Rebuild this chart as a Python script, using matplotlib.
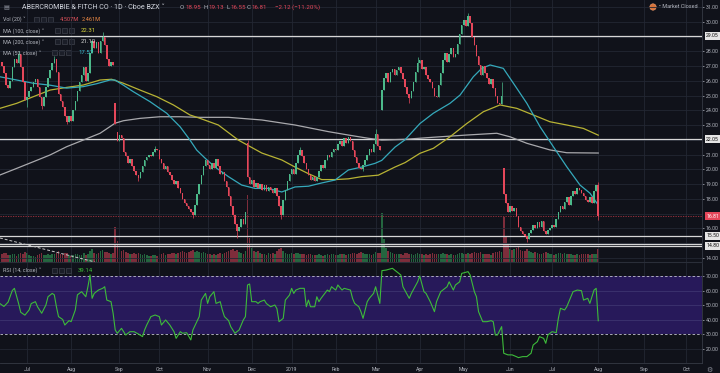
import numpy as np
import matplotlib.pyplot as plt
from matplotlib.patches import Rectangle, Circle
import matplotlib.transforms as mtransforms

W, H = 720, 373
BG = "#10121a"
GRID = "#232733"
TXT = "#b2b5be"
UP = "#4cb98a"
DOWN = "#e5475a"
VOL_UP = "#24663f"
VOL_DOWN = "#7e2d3b"
FONT = ["Roboto", "DejaVu Sans"]

# ---- data (bar index 0 = 2 Jul 2018, daily bars) ----
first_bar = -12
closes = [
    27.0, 26.5, 25.7, 25.5, 26.0, 26.9, 27.5, 27.2, 27.8, 26.9,
    25.9, 24.7, 24.9, 25.3, 25.6, 25.9, 26.1, 25.6, 24.9, 24.3,
    24.9, 25.6, 26.2, 26.7, 27.2, 27.5, 26.6, 25.1, 24.6, 24.2,
    23.6, 23.2, 23.6, 23.3, 24.0, 24.6, 25.3, 25.9, 26.4, 26.9,
    26.0, 26.5, 27.9, 28.7, 28.2, 28.6, 27.9, 28.7, 29.0, 28.4,
    27.5, 27.0, 27.3, 27.1, 23.1, 21.9, 22.3, 22.1, 21.2, 20.9,
    20.4, 20.7, 20.2, 19.9, 19.6, 19.4, 19.8, 20.2, 20.6, 20.8,
    21.0, 20.9, 21.2, 21.4, 21.3, 20.7, 20.4, 20.0, 20.2, 19.8,
    19.6, 19.3, 19.0, 19.2, 18.7, 18.4, 18.0, 17.7, 17.5, 17.3,
    17.1, 16.9, 17.6, 18.3, 19.0, 19.6, 20.2, 20.6, 20.3, 20.0,
    20.4, 20.1, 20.7, 20.2, 19.7, 19.8, 19.2, 18.8, 18.2, 17.5,
    16.9, 16.3, 15.8, 16.1, 16.6, 16.3, 17.1, 19.5, 19.0, 19.3,
    18.8, 19.1, 18.7, 19.0, 18.6, 18.9, 18.5, 18.8, 18.6, 18.4,
    18.7, 18.2, 17.5, 16.9, 17.9, 18.6, 19.2, 19.7, 20.0, 19.7,
    20.4, 21.0, 21.3, 20.9, 20.4, 20.0, 19.6, 19.3, 19.5, 19.2,
    19.5, 19.9, 20.3, 20.1, 20.6, 21.0, 20.8, 21.2, 21.4, 21.3,
    21.7, 21.9, 21.6, 22.1, 21.8, 22.2, 21.9, 21.3, 20.8, 20.4,
    20.1, 20.0, 20.3, 20.6, 21.0, 21.4, 21.2, 21.7, 22.4, 21.6,
    21.3, 25.4, 26.2, 26.5, 25.9, 26.6, 26.8, 26.4, 26.7, 26.9,
    26.5, 26.1, 25.6, 25.1, 24.8, 25.3, 25.9, 26.6, 27.2, 27.4,
    26.8, 26.9, 26.4, 26.1, 25.9, 25.5, 25.0, 24.9, 25.7, 26.5,
    27.4, 27.9, 27.3, 27.8, 28.2, 27.6, 27.8, 28.5, 29.2, 29.8,
    30.1, 29.7, 30.4, 29.9, 29.0, 28.4, 27.7, 27.1, 26.4, 27.0,
    26.5, 26.2, 25.8, 26.1, 25.5, 25.0, 24.5, 24.4, 25.0, 18.3,
    17.7, 17.1, 17.5, 17.2, 17.4, 16.8, 16.1, 15.8, 15.6, 15.5,
    15.3, 15.7, 15.9, 16.2, 16.0, 16.4, 16.1, 16.5, 15.8, 15.6,
    15.9, 16.0, 16.2, 16.1, 16.6, 17.1, 17.5, 17.3, 17.8, 18.1,
    17.6, 18.2, 18.5, 18.3, 18.7, 18.6, 18.4, 18.2, 17.9, 17.8,
    18.1, 17.7, 18.5, 18.93, 16.81,
]
# opens that do not sit at the previous close (gaps)
gap_opens = {-12: 27.3, 42: 24.5, 43: 22.5, 105: 21.8, 169: 24.0, 227: 20.1, 272: 18.95}
wick_high = {-4: 28.0, 13: 27.7, 36: 29.3, 61: 21.6, 105: 21.95, 130: 21.5, 166: 22.7,
             186: 27.6, 210: 30.6, 226: 25.9, 272: 19.13}
wick_low = {0: 24.2, 7: 24.1, 19: 23.05, 53: 19.2, 79: 16.7, 100: 15.35, 121: 16.65,
            160: 19.9, 182: 24.5, 238: 15.1, 272: 16.55}

volumes = [
    2.8, 3.1, 3.4, 2.6, 2.4, 3.0, 2.9, 2.2, 2.7, 3.3,
    3.0, 3.6, 3.2, 2.5, 2.1, 2.3, 1.9, 2.4, 2.9, 3.1,
    2.6, 2.4, 2.8, 2.5, 3.0, 2.7, 3.2, 3.8, 3.0, 2.9,
    3.4, 3.1, 2.6, 2.3, 2.5, 2.7, 2.9, 2.6, 2.4, 3.1,
    2.5, 2.8, 4.1, 4.6, 3.3, 3.0, 3.4, 3.8, 4.2, 3.5,
    3.6, 3.2, 2.9, 3.3, 12.5, 7.4, 4.8, 3.9, 4.4, 3.6,
    3.1, 2.9, 3.0, 3.2, 2.8, 3.4, 2.9, 2.6, 2.7, 2.4,
    2.3, 2.2, 2.5, 2.6, 2.3, 2.9, 2.7, 3.1, 2.6, 2.8,
    2.9, 3.2, 3.4, 2.8, 3.3, 3.6, 3.9, 3.5, 3.2, 3.7,
    3.9, 4.3, 3.6, 3.9, 3.5, 3.3, 3.7, 3.1, 2.8, 2.9,
    2.6, 2.7, 2.5, 2.9, 3.1, 2.8, 3.2, 3.5, 3.9, 4.2,
    4.6, 4.1, 4.4, 3.6, 3.2, 2.9, 3.8, 24.0, 8.6, 5.2,
    4.1, 3.6, 3.9, 3.2, 3.0, 2.8, 2.6, 3.1, 2.7, 3.3,
    2.9, 3.8, 4.5, 5.1, 3.9, 3.3, 3.0, 2.8, 3.2, 2.9,
    3.1, 3.4, 3.0, 2.8, 2.9, 2.6, 2.8, 2.7, 2.5, 2.4,
    2.6, 2.8, 2.5, 2.3, 2.6, 2.9, 2.4, 2.7, 2.8, 2.5,
    2.6, 2.9, 2.7, 3.0, 2.6, 2.8, 2.9, 3.2, 3.4, 3.0,
    3.3, 3.6, 3.1, 2.8, 2.7, 2.9, 2.6, 3.0, 3.5, 3.2,
    3.4, 17.5, 8.2, 5.1, 4.0, 3.6, 3.2, 2.9, 3.0, 2.7,
    2.8, 2.6, 3.1, 3.3, 2.9, 2.7, 2.6, 2.9, 3.2, 3.0,
    2.7, 2.5, 2.8, 2.6, 2.9, 3.1, 3.0, 2.8, 2.7, 3.0,
    3.2, 2.9, 2.7, 2.6, 2.8, 2.5, 2.4, 2.9, 3.3, 3.1,
    2.9, 2.7, 3.2, 3.0, 3.4, 3.6, 3.3, 3.1, 3.5, 2.9,
    2.7, 2.8, 3.0, 2.6, 3.2, 3.5, 3.7, 4.0, 3.6, 16.0,
    9.2, 6.0, 4.8, 4.2, 4.6, 5.0, 5.3, 4.4, 3.9, 4.1,
    4.5, 3.8, 3.5, 3.2, 3.6, 3.3, 3.0, 2.9, 3.4, 3.6,
    3.1, 2.8, 2.7, 2.5, 3.0, 3.3, 3.1, 2.8, 3.2, 3.0,
    2.7, 2.9, 2.6, 2.5, 2.8, 2.6, 2.7, 2.9, 3.0, 2.8,
    2.6, 2.7, 3.0, 2.9, 4.5,
]

ma50_idx = [-12.9, -4.9, 3, 11, 18.9, 26.8, 33.2, 39.5, 41.9, 45.9, 50.6, 58.6, 66.5, 72.9,
            77.6, 80.8, 84.8, 89.5, 95.9, 102.2, 108.6, 114.9, 121.3, 127.6, 134, 140.3,
            146.7, 153, 159.4, 165.7, 168.9, 175.2, 180, 187.1, 193.5, 201.4, 206.2, 212.5,
            216.5, 220.5, 226.8, 231.6, 238, 244.3, 250.6, 257, 263.3, 268.1, 272]
ma50_val = [26.27, 26.05, 25.83, 25.7, 25.5, 25.6, 25.8, 26.05, 26.05, 25.7, 25.26, 24.58,
            23.8, 22.88, 21.98, 21.3, 20.75, 20.15, 19.5, 18.93, 18.7, 18.7, 18.46, 18.8,
            18.85, 19.07, 19.27, 19.95, 20.15, 20.4, 20.6, 21.5, 22.0, 23.1, 23.8, 24.47,
            25.03, 26.27, 26.84, 27.07, 26.84, 25.83, 24.47, 22.88, 21.53, 20.17, 18.93,
            18.37, 17.57]
ma100_idx = [-12.9, -4.9, 3, 11, 18.9, 26.8, 34.8, 40.3, 45.9, 53.8, 61.8, 69.7, 77.6, 82.4,
             91.1, 100.6, 111.8, 121.3, 127.6, 134, 140.3, 146.7, 153, 159.4, 167.3, 175.2,
             180, 187.1, 193.5, 201.4, 209.4, 217.3, 225.2, 233.2, 241.1, 249, 257, 264.9, 272]
ma100_val = [24.13, 24.47, 24.92, 25.37, 25.55, 25.71, 26.05, 26.1, 25.83, 25.37, 24.92,
             24.36, 23.68, 23.45, 23.0, 21.98, 21.1, 20.63, 20.15, 19.7, 19.3, 19.3, 19.35,
             19.5, 19.6, 20.15, 20.45, 21.08, 21.42, 22.2, 23.1, 23.9, 24.36, 24.13, 23.68,
             23.22, 23.0, 22.77, 22.31]
ma200_idx = [-12.9, -4.9, 3, 11, 18.9, 26.8, 34.8, 41.9, 45.9, 53.8, 63.3, 72.9, 82.4, 95.9,
             111.8, 127.6, 143.5, 153, 162.5, 168.9, 180, 193.5, 209.4, 223.7, 230, 238, 249,
             257, 272]
ma200_val = [19.61, 20.06, 20.51, 20.97, 21.53, 21.98, 22.44, 23.12, 23.29, 23.45, 23.56,
             23.56, 23.52, 23.52, 23.34, 23.0, 22.55, 22.32, 22.1, 21.98, 22.03, 22.17, 22.32,
             22.44, 22.2, 21.76, 21.31, 21.12, 21.1]

rsi_idx = [-12.9, -11, -9, -7, -6, -4, -3, -1, 1, 2, 4, 5, 7, 9, 10, 12, 13, 14, 15, 17, 18,
           20, 21, 23, 24, 26, 28, 29, 30, 31, 32, 34, 36, 37, 38, 40, 41, 42, 43, 45, 47, 49,
           51, 53, 55, 56, 57, 59, 61, 63, 64, 66, 68, 70, 71, 73, 74, 76, 78, 79, 82, 83, 85,
           86, 87, 89, 90, 92, 93, 94, 96, 97, 99, 101, 103, 104, 105, 106, 107, 109, 110,
           111, 113, 114, 116, 118, 119, 120, 122, 123, 125, 126, 127, 128, 130, 132, 133,
           134, 135, 137, 138, 139, 140, 143, 144, 145, 147, 148, 150, 151, 154, 155, 156,
           158, 159, 160, 162, 163, 165, 166, 168, 169, 171, 174, 176, 178, 179, 182, 183,
           186, 187, 189, 190, 192, 194, 195, 197, 200, 201, 203, 204, 206, 207, 210, 211,
           213, 214, 215, 217, 219, 221, 222, 223, 224, 226, 227, 229, 231, 233, 234, 236,
           238, 240, 241, 243, 244, 246, 247, 248, 250, 252, 253, 254, 256, 257, 259, 260,
           262, 264, 265, 267, 268, 270, 271, 272]
rsi_val = [51, 49, 52, 60, 61.5, 51, 45, 43, 46.6, 51, 52.3, 48.8, 44.3, 50, 55.7, 58, 57,
           48.8, 42, 40, 36.2, 39.2, 38.5, 46.6, 57, 59.2, 55.7, 62.6, 70.7, 54.6, 58, 60.3,
           61.5, 62.6, 53.4, 52.3, 44.3, 32.8, 30.5, 33.9, 29.3, 31.6, 31.6, 30, 28.2, 32.8,
           36.2, 42, 43.1, 42, 36.2, 39.7, 36.2, 31.6, 27, 31.6, 30.5, 30.9, 25.9, 32.8, 42,
           53.4, 58, 51.1, 55.7, 59.2, 51.1, 52.3, 46.6, 42, 39.2, 35.1, 30.5, 32.8, 39.7, 42,
           63.8, 64.5, 52.3, 52.3, 51.1, 52.3, 53.4, 51, 48.8, 50, 47.5, 38.5, 40.8, 53.4,
           56.9, 61.5, 58, 60.3, 61.5, 61.5, 48.8, 53.4, 48.8, 48.8, 55.7, 52.3, 54.6, 60.3,
           59.2, 62.6, 60.3, 63.8, 60.3, 61.5, 60.3, 54.6, 51.1, 48.8, 45.4, 40.8, 52.3, 54.6,
           58, 62.6, 51.1, 73.7, 74.1, 75.3, 73, 70.7, 62.6, 54.6, 58, 66, 70, 59.2, 58, 52.3,
           45.4, 52.3, 59.2, 62.6, 66, 60.3, 63.8, 66, 71.8, 73, 70.7, 59.2, 55.7, 45.4, 38.5,
           38.5, 39.2, 38.5, 29.3, 29.3, 35.1, 16.7, 15.6, 15.6, 14.4, 13.7, 14.4, 14.4, 16.7,
           22.4, 24.7, 28.2, 27, 23.6, 29.3, 31.6, 30.9, 40.8, 47.7, 46.6, 48.8, 55.7, 59.2,
           60.3, 59.9, 53.4, 54.6, 51.1, 60.3, 61.5, 39.14]

month_idx = [0, 21, 44, 63, 86, 107, 126, 147, 166, 187, 208, 230, 250, 272, 294, 314]
month_lbl = ["Jul", "Aug", "Sep", "Oct", "Nov", "Dec", "2019", "Feb", "Mar", "Apr", "May",
             "Jun", "Jul", "Aug", "Sep", "Oct"]
level_lines = [29.05, 22.05, 15.50, 14.95, 14.80]
level_labels = [29.05, 22.05, 15.50, 14.80]
price_ticks = [14, 16, 18, 19, 20, 21, 23, 24, 25, 26, 27, 28, 30, 31]
last_price = 16.81
trend_start = (-12.86, 15.34)
trend_end = (32.4, 13.71)
rsi_ticks = [20, 30, 40, 50, 60, 70]

# ---- layout ----
plt.rcParams["font.family"] = FONT
fig = plt.figure(figsize=(W / 100, H / 100), dpi=100, facecolor=BG)
main_rect = [0, (H - 262) / H, 702 / W, 262 / H]
ax_vol = fig.add_axes(main_rect)
ax = fig.add_axes(main_rect, sharex=ax_vol)
ax_rsi = fig.add_axes([0, (H - 363) / H, 702 / W, 100 / H], sharex=ax_vol)

xmin, xmax = -12.86, 321.4
bars = np.arange(first_bar, first_bar + len(closes))
closes = np.array(closes)
opens = np.empty_like(closes)
for k, i in enumerate(bars):
    opens[k] = gap_opens.get(i, closes[k - 1] if k else closes[k])
up = closes >= opens
colors = np.where(up, UP, DOWN)
highs = np.maximum(opens, closes)
lows = np.minimum(opens, closes)
for i, v in wick_high.items():
    highs[i - first_bar] = v
for i, v in wick_low.items():
    lows[i - first_bar] = v

# volume (behind the candles)
ax_vol.set_facecolor(BG)
ax_vol.bar(bars, volumes, width=0.75, color=np.where(up, VOL_UP, VOL_DOWN), linewidth=0)
ax_vol.set_ylim(0, 94)
ax_vol.set_xlim(xmin, xmax)
ax_vol.axis("off")

ax.set_zorder(ax_vol.get_zorder() + 1)
ax.patch.set_alpha(0)
ax.set_ylim(13.712, 31.475)
ax.set_xlim(xmin, xmax)

for p in range(14, 32):
    ax.axhline(p, color=GRID, lw=0.6, zorder=0)
for m in month_idx:
    ax.axvline(m, color=GRID, lw=0.6, zorder=0)
    ax_rsi.axvline(m, color=GRID, lw=0.6, zorder=0)

for lv in level_lines:
    ax.axhline(lv, color="#d6d6d6", lw=0.9, zorder=2)
ax.axhline(last_price, color="#a8323f", lw=0.6, ls=(0, (1.5, 1.5)), zorder=2)
ax.plot([trend_start[0], trend_end[0]], [trend_start[1], trend_end[1]],
        color="#c8c8c8", lw=0.7, ls=(0, (3, 2)), zorder=2)

ax.plot(ma200_idx, ma200_val, color="#a9a9ad", lw=0.9, zorder=3)
ax.plot(ma100_idx, ma100_val, color="#b8b334", lw=0.9, zorder=3)
ax.plot(ma50_idx, ma50_val, color="#35a9bb", lw=0.9, zorder=3)

ax.vlines(bars, lows, highs, colors=colors, lw=0.5, zorder=4)
body = np.maximum(np.abs(closes - opens), 0.06)
ax.bar(bars, body, bottom=np.minimum(opens, closes), width=0.72, color=colors,
       linewidth=0, zorder=5)

# price scale
ax.yaxis.tick_right()
ax.set_yticks(price_ticks)
ax.set_yticklabels([f"{p:.2f}" for p in price_ticks])
ax.tick_params(axis="y", colors=TXT, labelsize=3.7, length=1.5, width=0.5, pad=1)
ax.tick_params(axis="x", bottom=False, labelbottom=False)
for s in ["top", "left"]:
    ax.spines[s].set_visible(False)
ax.spines["right"].set_color("#363a45")
ax.spines["right"].set_linewidth(0.6)
ax.spines["bottom"].set_color("#2a2e39")
ax.spines["bottom"].set_linewidth(0.8)

blend = mtransforms.blended_transform_factory(ax.transAxes, ax.transData)
for lv in level_labels:
    ax.text(1.006, lv, f"{lv:.2f}", transform=blend, fontsize=3.7, color="#111111",
            va="center", ha="left", clip_on=False, zorder=10,
            bbox=dict(boxstyle="square,pad=0.3", fc="#e6e6e6", ec="none"))
ax.text(1.006, last_price, f"{last_price:.2f}", transform=blend, fontsize=3.7,
        color="white", va="center", ha="left", clip_on=False, zorder=10,
        bbox=dict(boxstyle="square,pad=0.3", fc=DOWN, ec="none"))

# RSI pane
ax_rsi.set_facecolor(BG)
ax_rsi.set_ylim(10, 78.97)
ax_rsi.axhspan(30, 70, color="#27195a", lw=0, zorder=0)
for r in [40, 50, 60]:
    ax_rsi.axhline(r, color="#3d3470", lw=0.6, zorder=1)
ax_rsi.axhline(20, color=GRID, lw=0.6, zorder=1)
for r in [30, 70]:
    ax_rsi.axhline(r, color="#c4c4d0", lw=0.6, ls=(0, (3, 2.5)), zorder=2)
ax_rsi.plot(rsi_idx, rsi_val, color="#3dbb3a", lw=0.8, zorder=3)
ax_rsi.yaxis.tick_right()
ax_rsi.set_yticks(rsi_ticks)
ax_rsi.set_yticklabels([f"{r:.2f}" for r in rsi_ticks])
ax_rsi.tick_params(axis="y", colors=TXT, labelsize=3.7, length=1.5, width=0.5, pad=1)
ax_rsi.set_xticks(month_idx)
ax_rsi.set_xticklabels(month_lbl)
ax_rsi.tick_params(axis="x", colors=TXT, labelsize=3.7, length=0, pad=3)
for s in ["top", "left"]:
    ax_rsi.spines[s].set_visible(False)
for s in ["right", "bottom"]:
    ax_rsi.spines[s].set_color("#363a45")
    ax_rsi.spines[s].set_linewidth(0.6)
ax_rsi.set_xlim(xmin, xmax)


# ---- header texts (pixel positions) ----
def ftext(x, y, s, color=TXT, size=3.9, **kw):
    fig.text(x / W, 1 - y / H, s, color=color, fontsize=size, va="center", ha="left", **kw)


def icons(x, y):
    for k in range(3):
        fig.add_artist(Rectangle(((x + k * 7) / W, 1 - (y + 2.6) / H), 5.2 / W, 5.2 / H,
                                 transform=fig.transFigure, fc="#1b1e28", ec="#4a4d58",
                                 lw=0.4))


ftext(3, 7.3, "\u25a4", color="#8a8e99", size=4.5, family=["DejaVu Sans"])
ftext(22, 7.3, "ABERCROMBIE & FITCH CO \u00b7 1D \u00b7 Cboe BZX \u02c5", color="#d1d4dc", size=5.1)
ohlc = [(180, "O", 185, "18.95"), (203, "H", 208, "19.13"), (226.5, "L", 230.5, "16.55"),
        (247, "C", 251.5, "16.81")]
for lx, letter, vx, val in ohlc:
    ftext(lx, 7.3, letter, size=4.4)
    ftext(vx, 7.3, val, color=DOWN, size=4.4)
ftext(275, 7.3, "\u22122.12 (\u221211.20%)", color=DOWN, size=4.4)

ftext(3, 19.3, "Vol (20) \u02c5")
icons(34, 19.3)
ftext(60, 19.3, "4.507M", color="#e0525c", size=4.1)
ftext(82, 19.3, "2.461M", color="#ef8a45", size=4.1)
ftext(3, 30.7, "MA (100, close) \u02c5")
icons(55, 30.7)
ftext(81, 30.7, "22.31", color="#d8d43c", size=4.3)
ftext(3, 41.7, "MA (200, close) \u02c5")
icons(55, 41.7)
ftext(81, 41.7, "21.10", color="#d9d9d9", size=4.3)
ftext(3, 52.7, "MA (50, close) \u02c5")
icons(52, 52.7)
ftext(78, 52.7, "17.57", color="#3cc3d6", size=4.3)
ftext(3, 270.5, "RSI (14, close) \u02c5")
icons(52, 270.5)
ftext(78, 270.5, "39.14", color="#3dbb3a", size=4.3)

fig.add_artist(Circle((653, H - 7), 3.2, transform=mtransforms.IdentityTransform(),
                      fc="#d9733a", ec="#f0a070", lw=0.4))
ftext(659, 7, "\u2022 Market Closed", size=4.0)
ftext(706, 370, "\u2699", size=5, color="#8a8e99", family=["DejaVu Sans"])

fig.savefig("out.png", dpi=100, facecolor=BG)
